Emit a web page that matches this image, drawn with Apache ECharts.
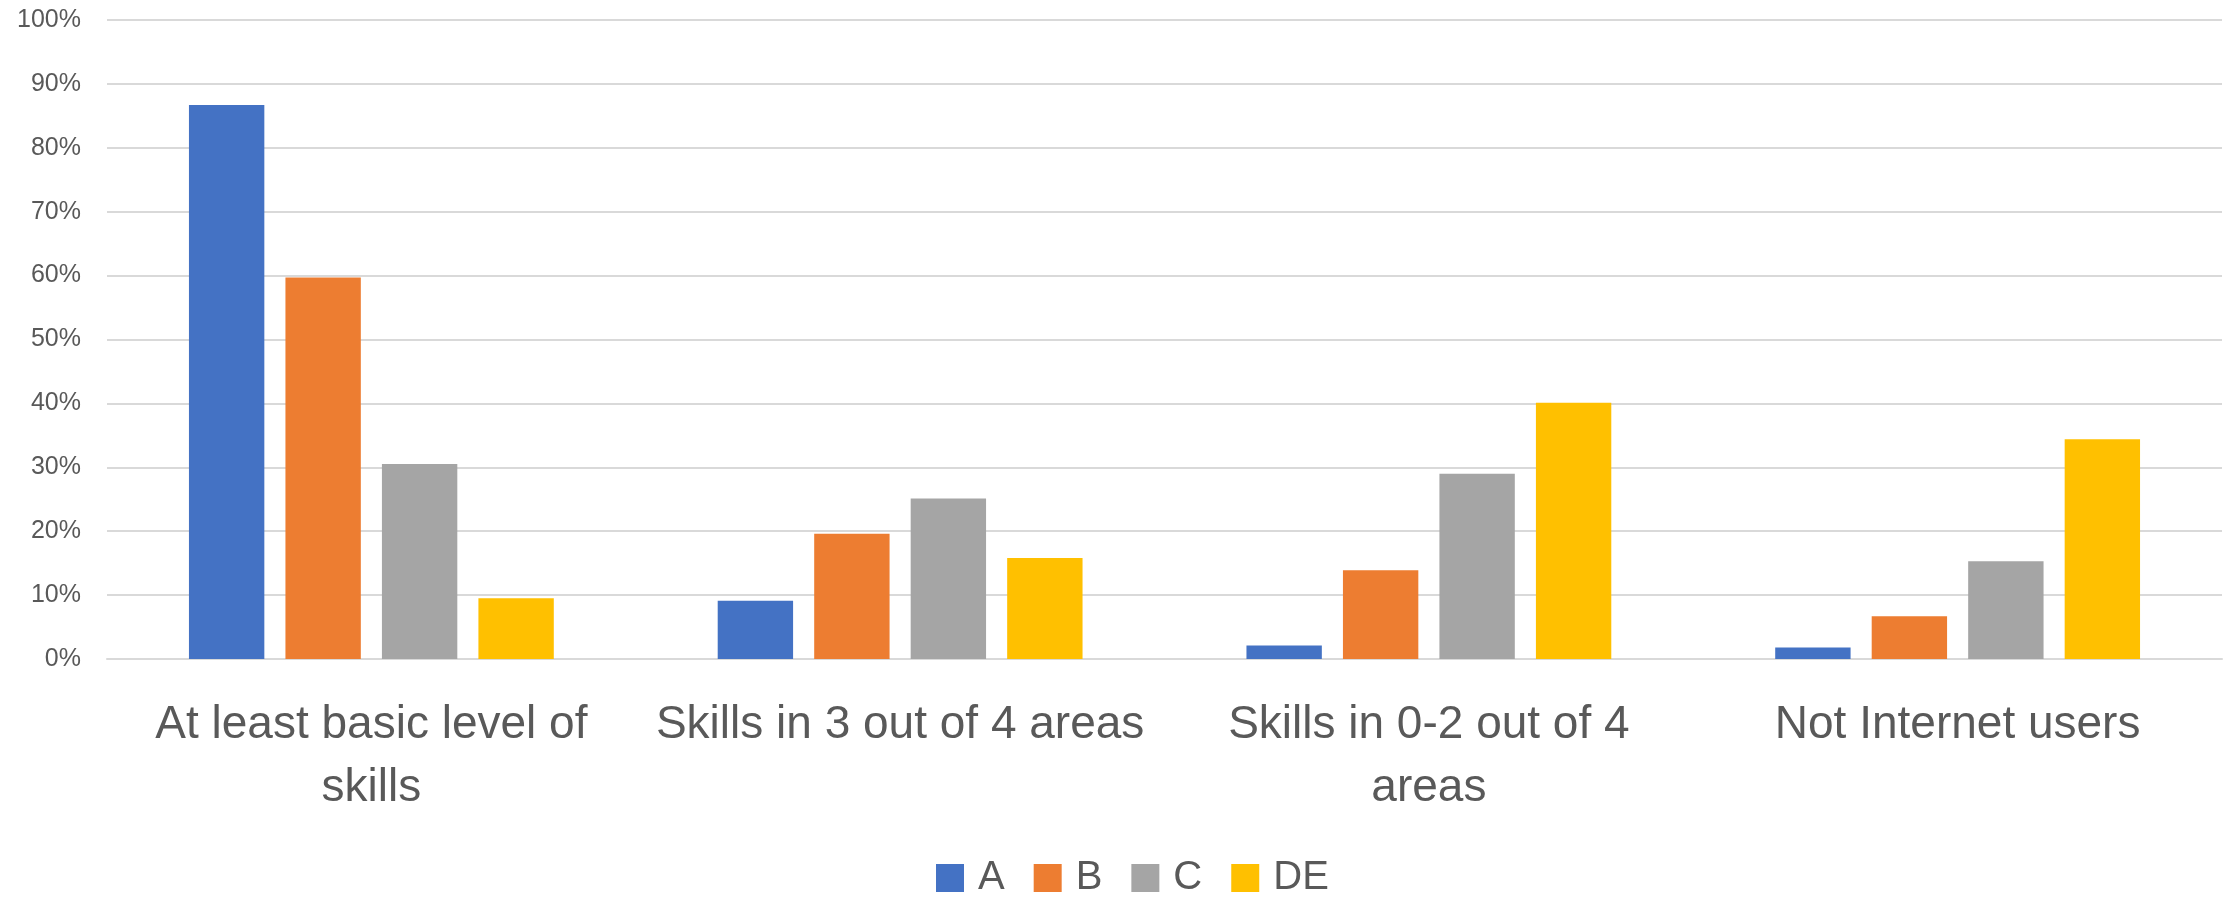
<!DOCTYPE html>
<html>
<head>
<meta charset="utf-8">
<script src="https://cdn.jsdelivr.net/npm/echarts@6/dist/echarts.min.js"></script>
<style>
  html, body { margin: 0; padding: 0; background: #fff; }
  #chart { width: 2226px; height: 897px; }
</style>
</head>
<body>
<div id="chart"></div>
<script>
// values, in percent
const categories = [
  'At least basic level of\nskills',
  'Skills in 3 out of 4 areas',
  'Skills in 0-2 out of 4\nareas',
  'Not Internet users',
]
const seriesNames = ['A', 'B', 'C', 'DE']
const valuesA = [86.7, 9.1, 2.1, 1.8]
const valuesB = [59.7, 19.6, 13.9, 6.7]
const valuesC = [30.5, 25.1, 29.0, 15.3]
const valuesDE = [9.5, 15.8, 40.1, 34.4]
const yTicks = [0, 100, 10] // min, max, step

const COLORS = ['#4472C4', '#ED7D31', '#A5A5A5', '#FFC000']
const TEXT = '#595959'
const GRID = '#D9D9D9'
const FONT = '"Liberation Sans", Arial, sans-serif'

const chart = echarts.init(document.getElementById('chart'), null, { renderer: 'canvas' })

const allValues = [valuesA, valuesB, valuesC, valuesDE]

chart.setOption({
  backgroundColor: '#fff',
  animation: false,
  color: COLORS,
  grid: { left: 107, right: 4, top: 20, bottom: 238 },
  legend: {
    left: 936,
    top: 858,
    padding: 0,
    itemWidth: 28,
    itemHeight: 28,
    itemGap: 29,
    icon: 'rect',
    data: seriesNames,
    textStyle: { color: TEXT, fontSize: 40, fontFamily: FONT, lineHeight: 40, padding: [0, 0, 0, 9] },
  },
  xAxis: {
    type: 'category',
    data: categories,
    axisTick: { show: false },
    axisLine: { lineStyle: { color: GRID, width: 2 } },
    axisLabel: {
      color: TEXT,
      fontSize: 46,
      fontFamily: FONT,
      lineHeight: 63,
      margin: 35,
      interval: 0,
    },
  },
  yAxis: {
    type: 'value',
    min: yTicks[0],
    max: yTicks[1],
    interval: yTicks[2],
    axisLine: { show: false },
    axisTick: { show: false },
    axisLabel: {
      formatter: '{value}%',
      color: TEXT,
      fontSize: 25,
      fontFamily: FONT,
      margin: 26,
    },
    splitLine: { lineStyle: { color: GRID, width: 2 } },
  },
  series: seriesNames.map((name, i) => ({
    type: 'bar',
    name,
    data: allValues[i],
    barGap: '28%',
    barCategoryGap: '31%',
    itemStyle: { color: COLORS[i] },
  })),
})
</script>
</body>
</html>
